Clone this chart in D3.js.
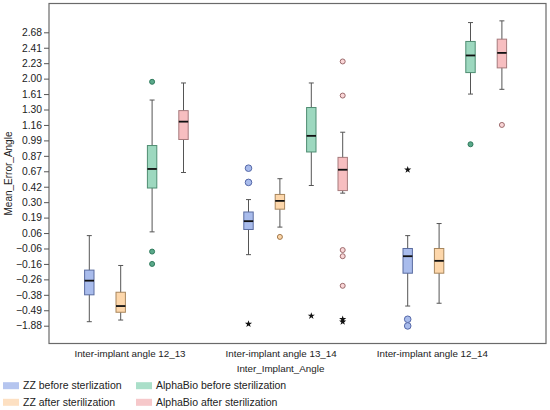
<!DOCTYPE html>
<html>
<head>
<meta charset="utf-8">
<script src="https://cdn.jsdelivr.net/npm/d3@7"></script>
<style>
  body { margin: 0; background: #fff; }
  text { font-family: "Liberation Sans", Arial, sans-serif; fill: #222; }
</style>
</head>
<body>
<script>
// Categories and series
const groups = ["Inter-implant angle 12_13", "Inter-implant angle 13_14", "Inter-implant angle 12_14"];
const series = ["ZZ before sterlization", "ZZ after sterilization", "AlphaBio before sterilization", "AlphaBio after sterilization"];

// Y tick labels (the axis spaces them evenly)
const yTicks = [-1.88, -0.49, -0.38, -0.26, -0.16, -0.06, 0.06, 0.19, 0.30, 0.42, 0.67, 0.87, 0.99, 1.16, 1.30, 1.61, 2.00, 2.23, 2.41, 2.68];

// Box stats per group: [low whisker, q1, median, q3, high whisker]
const zzBefore = [[-1.52, -0.38, -0.27, -0.20, 0.04], [-0.10, 0.09, 0.16, 0.23, 0.32], [-0.46, -0.22, -0.11, -0.06, 0.04]];
const zzAfter = [[-1.37, -0.67, -0.46, -0.36, -0.17], [0.11, 0.25, 0.31, 0.36, 0.55], [-0.44, -0.22, -0.14, -0.06, 0.14]];
const abBefore = [[0.07, 0.41, 0.70, 0.95, 1.49], [0.44, 0.90, 1.04, 1.34, 1.89], [1.61, 2.09, 2.32, 2.52, 2.85]];
const abAfter = [[0.65, 1.00, 1.19, 1.29, 1.89], [0.37, 0.39, 0.69, 0.85, 1.08], [1.73, 2.16, 2.35, 2.56, 2.88]];

// Outliers (circles) per group
const zzBeforeOut = [[], [0.71, 0.49], [-1.30, -1.90]];
const zzAfterOut = [[], [0.03], []];
const abBeforeOut = [[1.92, -0.08, -0.16], [], [0.96]];
const abAfterOut = [[], [2.25, 1.58, -0.07, -0.11, -0.31], [1.16]];

// Extremes (stars) per group
const zzBeforeExt = [[], [-1.73], [0.69]];
const zzAfterExt = [[], [], []];
const abBeforeExt = [[], [-1.00], []];
const abAfterExt = [[], [-1.30, -1.52], []];

const boxes = [zzBefore, zzAfter, abBefore, abAfter];
const outs = [zzBeforeOut, zzAfterOut, abBeforeOut, abAfterOut];
const exts = [zzBeforeExt, zzAfterExt, abBeforeExt, abAfterExt];

const fills = ["#a9bcec", "#fdd7ab", "#9dd8bf", "#f7bec0"];
const strokes = ["#5a6ca0", "#a8865c", "#4f8d72", "#a67a7c"];
const outFill = ["#a9bcec", "#fdd7ab", "#5aa98a", "#fad6d7"];
const outStroke = ["#5568a8", "#a07648", "#2f7a5c", "#9c6a6c"];
const outR = [3.3, 2.5, 2.5, 2.5];
const legendFill = ["#b5c5ef", "#fde0c2", "#aadfc9", "#f6c8ca"];

const W = 550, H = 410;
const pLeft = 49, pRight = 546, pTop = 3.5, pBottom = 343.5;

const svg = d3.select("body").append("svg")
  .attr("width", W).attr("height", H);

// Scales
const x0 = d3.scaleBand().domain(groups).range([56.8, 534.4]);
const x1 = d3.scaleBand().domain(series).range([16.8, 142.4]);
const xLabel = d3.scalePoint().domain(groups).range([129.5, 431.8]);

const yStep = (325.7 - 32.3) / (yTicks.length - 1);
const y = d3.scaleLinear()
  .domain(yTicks)
  .range(yTicks.map((d, i) => 325.7 - i * yStep));

// Frame
svg.append("rect")
  .attr("x", pLeft).attr("y", pTop)
  .attr("width", pRight - pLeft).attr("height", pBottom - pTop)
  .attr("fill", "none").attr("stroke", "#6a6a6a").attr("stroke-width", 1.2);

// Y axis
const yAxis = svg.append("g")
  .attr("transform", `translate(${pLeft},0)`)
  .call(d3.axisLeft(y).tickValues(yTicks).tickFormat(d3.format(".2f")).tickSize(5).tickPadding(2));
yAxis.select(".domain").remove();
yAxis.selectAll("line").attr("stroke", "#555");
yAxis.selectAll("text").style("font-size", "10.3px").attr("fill", "#222");

// X axis
const xAxis = svg.append("g")
  .attr("transform", `translate(0,${pBottom})`)
  .call(d3.axisBottom(xLabel).tickSize(0).tickPadding(7));
xAxis.select(".domain").remove();
xAxis.selectAll("text").style("font-size", "9.8px").attr("fill", "#222");

// Axis titles
svg.append("text")
  .attr("x", 280.5).attr("y", 371.5)
  .attr("text-anchor", "middle").style("font-size", "9.8px")
  .text("Inter_Implant_Angle");

svg.append("text")
  .attr("transform", "rotate(-90)")
  .attr("x", -(pTop + pBottom) / 2).attr("y", 12)
  .attr("text-anchor", "middle").style("font-size", "10px")
  .text("Mean_Error_Angle");

// Boxes
const bw = 9.4, capW = 5;
series.forEach((s, si) => {
  groups.forEach((g, gi) => {
    const st = boxes[si][gi];
    const cx = x0(g) + x1(s) + x1.bandwidth() / 2;
    const gg = svg.append("g");

    // whisker
    gg.append("line")
      .attr("x1", cx).attr("x2", cx)
      .attr("y1", y(st[0])).attr("y2", y(st[4]))
      .attr("stroke", "#555").attr("stroke-width", 1);
    [st[0], st[4]].forEach(v => {
      gg.append("line")
        .attr("x1", cx - capW / 2).attr("x2", cx + capW / 2)
        .attr("y1", y(v)).attr("y2", y(v))
        .attr("stroke", "#555").attr("stroke-width", 1);
    });

    // box
    gg.append("rect")
      .attr("x", cx - bw / 2).attr("width", bw)
      .attr("y", y(st[3])).attr("height", y(st[1]) - y(st[3]))
      .attr("fill", fills[si]).attr("stroke", strokes[si]).attr("stroke-width", 1);

    // median
    gg.append("line")
      .attr("x1", cx - bw / 2).attr("x2", cx + bw / 2)
      .attr("y1", y(st[2])).attr("y2", y(st[2]))
      .attr("stroke", "#111").attr("stroke-width", 1.8);

    // outliers
    gg.selectAll("circle.out")
      .data(outs[si][gi])
      .enter().append("circle")
      .attr("cx", cx).attr("cy", d => y(d))
      .attr("r", outR[si])
      .attr("fill", outFill[si]).attr("stroke", outStroke[si]).attr("stroke-width", 1);

    // extremes
    gg.selectAll("path.ext")
      .data(exts[si][gi])
      .enter().append("path")
      .attr("d", d3.symbol(d3.symbolStar, 16))
      .attr("transform", d => `translate(${cx},${y(d)})`)
      .attr("fill", "#111");
  });
});

// Legend
const legX = [3, 136];
const legY = [385.7, 402.3];
const leg = svg.append("g");
series.forEach((s, i) => {
  const col = Math.floor(i / 2), row = i % 2;
  leg.append("rect")
    .attr("x", legX[col]).attr("y", legY[row] - 3.5)
    .attr("width", 16).attr("height", 7)
    .attr("fill", legendFill[i]);
  leg.append("text")
    .attr("x", legX[col] + 20).attr("y", legY[row] + 3.7)
    .style("font-size", "10.5px")
    .text(s);
});
</script>
</body>
</html>
